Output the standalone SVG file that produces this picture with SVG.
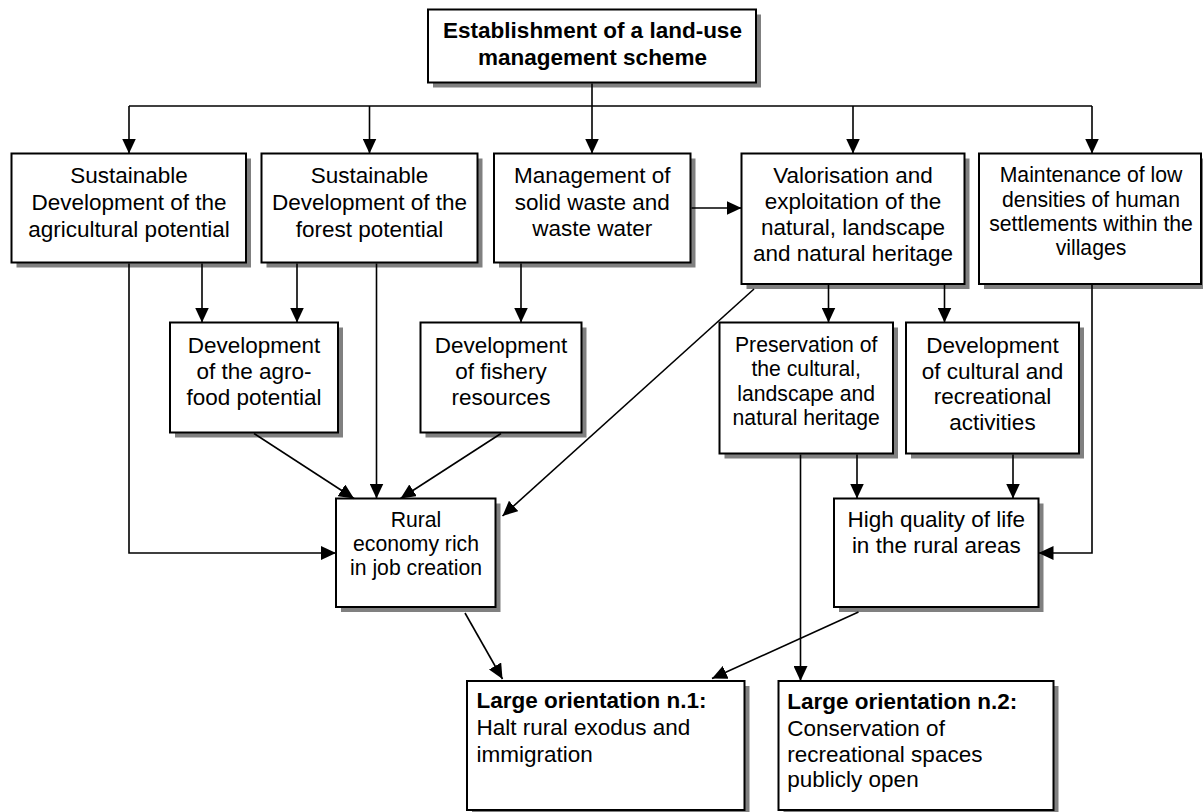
<svg xmlns="http://www.w3.org/2000/svg" width="1203" height="812" viewBox="0 0 1203 812">
<defs>
<marker id="ah" markerUnits="userSpaceOnUse" viewBox="0 0 15 14" markerWidth="15" markerHeight="14" refX="15" refY="7" orient="auto">
<path d="M0,0 L15,7 L0,14 z" fill="#000"/>
</marker>
</defs>
<style>
.sh{fill:#808080}
.bx{fill:#fff;stroke:#000;stroke-width:2}
text{font-family:"Liberation Sans",Arial,sans-serif;font-size:22.5px;fill:#000}
.c{text-anchor:middle}
.b{font-weight:bold}
.s{font-size:21.2px}
.cn{fill:none;stroke:#000;stroke-width:1.6}
.ar{marker-end:url(#ah)}
</style>
<rect width="1203" height="812" fill="#fff"/>

<g id="n-title">
<rect class="sh" x="433" y="14.5" width="328" height="73"/>
<rect class="bx" x="428" y="9.5" width="328" height="73"/>
<text class="c b" x="592.5" y="38">Establishment of a land-use</text>
<text class="c b" x="592.5" y="65">management scheme</text>
</g>

<g id="n-agri">
<rect class="sh" x="16.5" y="158.5" width="234.5" height="109"/>
<rect class="bx" x="11.5" y="153.5" width="234.5" height="109"/>
<text class="c" x="129" y="183.3">Sustainable</text>
<text class="c" x="129" y="210">Development of the</text>
<text class="c" x="129" y="236.7">agricultural potential</text>
</g>

<g id="n-forest">
<rect class="sh" x="266.5" y="158.5" width="216" height="109"/>
<rect class="bx" x="261.5" y="153.5" width="216" height="109"/>
<text class="c" x="369.5" y="183.3">Sustainable</text>
<text class="c" x="369.5" y="210">Development of the</text>
<text class="c" x="369.5" y="236.7">forest potential</text>
</g>

<g id="n-waste">
<rect class="sh" x="499" y="158.5" width="196.5" height="109"/>
<rect class="bx" x="494" y="153.5" width="196.5" height="109"/>
<text class="c" x="592.3" y="183">Management of</text>
<text class="c" x="592.3" y="209.5">solid waste and</text>
<text class="c" x="592.3" y="236">waste water</text>
</g>

<g id="n-valor">
<rect class="sh" x="746.5" y="158.5" width="223" height="130.5"/>
<rect class="bx" x="741.5" y="153.5" width="223" height="130.5"/>
<text class="c" x="853" y="183">Valorisation and</text>
<text class="c" x="853" y="209">exploitation of the</text>
<text class="c" x="853" y="235">natural, landscape</text>
<text class="c" x="853" y="261">and natural heritage</text>
</g>

<g id="n-maint">
<rect class="sh" x="984" y="158.5" width="222" height="130.5"/>
<rect class="bx" x="979" y="153.5" width="222" height="130.5"/>
<text class="c s" x="1091" y="181.7">Maintenance of low</text>
<text class="c s" x="1091" y="206.5">densities of human</text>
<text class="c s" x="1091" y="230.8">settlements within the</text>
<text class="c s" x="1091" y="255">villages</text>
</g>

<g id="n-agro">
<rect class="sh" x="175" y="327.5" width="168" height="110"/>
<rect class="bx" x="170" y="322.5" width="168" height="110"/>
<text class="c" x="254" y="352.7">Development</text>
<text class="c" x="254" y="379">of the agro-</text>
<text class="c" x="254" y="405">food potential</text>
</g>

<g id="n-fish">
<rect class="sh" x="425.5" y="327.5" width="161" height="110"/>
<rect class="bx" x="420.5" y="322.5" width="161" height="110"/>
<text class="c" x="501" y="352.7">Development</text>
<text class="c" x="501" y="379">of fishery</text>
<text class="c" x="501" y="405">resources</text>
</g>

<g id="n-preserv">
<rect class="sh" x="724.5" y="327.5" width="173.5" height="131"/>
<rect class="bx" x="719.5" y="322.5" width="173.5" height="131"/>
<text class="c s" x="806.2" y="352">Preservation of</text>
<text class="c s" x="806.2" y="376.3">the cultural,</text>
<text class="c s" x="806.2" y="400.6">landscape and</text>
<text class="c s" x="806.2" y="425">natural heritage</text>
</g>

<g id="n-cult">
<rect class="sh" x="911" y="327.5" width="173" height="131"/>
<rect class="bx" x="906" y="322.5" width="173" height="131"/>
<text class="c" x="992.5" y="352.7">Development</text>
<text class="c" x="992.5" y="378.5">of cultural and</text>
<text class="c" x="992.5" y="404.2">recreational</text>
<text class="c" x="992.5" y="430">activities</text>
</g>

<g id="n-rural">
<rect class="sh" x="341" y="503.5" width="159.5" height="108.5"/>
<rect class="bx" x="336" y="498.5" width="159.5" height="108.5"/>
<text class="c s" x="416" y="526.7">Rural</text>
<text class="c s" x="416" y="551">economy rich</text>
<text class="c s" x="416" y="575.3">in job creation</text>
</g>

<g id="n-hq">
<rect class="sh" x="839" y="503.5" width="204.5" height="108.5"/>
<rect class="bx" x="834" y="498.5" width="204.5" height="108.5"/>
<text class="c" x="936.3" y="526.7">High quality of life</text>
<text class="c" x="936.3" y="552.7">in the rural areas</text>
</g>

<g id="n-lo1">
<rect class="sh" x="472" y="686" width="277.5" height="129"/>
<rect class="bx" x="467" y="681" width="277.5" height="129"/>
<text class="b" x="476.5" y="708.3">Large orientation n.1:</text>
<text x="476.5" y="735">Halt rural exodus and</text>
<text x="476.5" y="761.7">immigration</text>
</g>

<g id="n-lo2">
<rect class="sh" x="783.5" y="686" width="275" height="129"/>
<rect class="bx" x="778.5" y="681" width="275" height="129"/>
<text class="b" x="787.3" y="709.3">Large orientation n.2:</text>
<text x="787.3" y="736">Conservation of</text>
<text x="787.3" y="761.7">recreational spaces</text>
<text x="787.3" y="786.7">publicly open</text>
</g>

<g id="connectors">
<path class="cn" d="M129,106 H1092"/>
<path class="cn ar" d="M592,83.5 V153.5"/>
<path class="cn ar" d="M129,106 V153.5"/>
<path class="cn ar" d="M369.5,106 V153.5"/>
<path class="cn ar" d="M853,106 V153.5"/>
<path class="cn ar" d="M1092,106 V153.5"/>
<path class="cn ar" d="M129,263.5 V553 H336"/>
<path class="cn ar" d="M202,263.5 V322.5"/>
<path class="cn ar" d="M297,263.5 V322.5"/>
<path class="cn ar" d="M376.5,263.5 V498.5"/>
<path class="cn ar" d="M521,263.5 V322.5"/>
<path class="cn ar" d="M691.5,208 H741.5"/>
<path class="cn ar" d="M754,289 L502.5,516"/>
<path class="cn ar" d="M828.5,285 V322.5"/>
<path class="cn ar" d="M944.5,285 V322.5"/>
<path class="cn ar" d="M1092,285 V553 H1038.5"/>
<path class="cn ar" d="M254,433.5 L354,498.5"/>
<path class="cn ar" d="M501,433.5 L400.5,498.5"/>
<path class="cn ar" d="M857,454.5 V498.5"/>
<path class="cn ar" d="M1013,454.5 V498.5"/>
<path class="cn ar" d="M800.5,454.5 V681"/>
<path class="cn ar" d="M465,613 L502.5,679"/>
<path class="cn ar" d="M858.5,612 L712,678.5"/>
</g>
</svg>
